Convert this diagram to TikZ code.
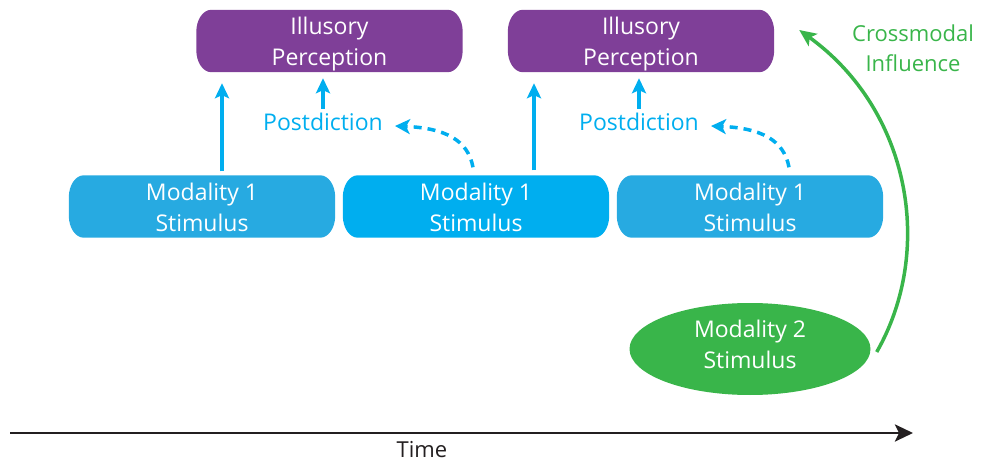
\documentclass[tikz,border=0pt]{standalone}
\usepackage{fontspec}
\setmainfont{Open Sans}
\usetikzlibrary{arrows.meta,shapes.geometric}
\definecolor{ipurple}{HTML}{7F3F98}
\definecolor{bblue}{HTML}{00AEEF}
\definecolor{mblue}{HTML}{27AAE1}
\definecolor{mgreen}{HTML}{39B54A}
\definecolor{tblack}{HTML}{231F20}
\pgfdeclarelayer{background}
\pgfsetlayers{background,main}
\newcommand\twolines[3]{\raisebox{#1}[\height][\depth]{\begin{tabular}{@{}c@{}}#2\\#3\end{tabular}}}
\newcommand\pillfill[2]{%
  \begin{pgfonlayer}{background}
  \fill[#2] ([xshift=15pt]#1.north west) -- ([xshift=-15pt]#1.north east)
    arc[start angle=90,end angle=0,x radius=15pt,y radius=22pt]
    -- ([yshift=22pt]#1.south east)
    arc[start angle=0,end angle=-90,x radius=15pt,y radius=22pt]
    -- ([xshift=15pt]#1.south west)
    arc[start angle=270,end angle=180,x radius=15pt,y radius=22pt]
    -- ([yshift=-22pt]#1.north west)
    arc[start angle=180,end angle=90,x radius=15pt,y radius=22pt] -- cycle;
  \end{pgfonlayer}}
\tikzset{
  txt/.style={font=\fontsize{23}{31}\selectfont, align=center},
  pillbox/.style={txt, text=white, minimum width=266pt, minimum height=60pt, inner sep=0pt},
  bluearrow/.style={draw=bblue, line width=3.5pt, -{Stealth[length=15pt,width=14pt,inset=3pt]}},
  dasharrow/.style={draw=bblue, line width=3.5pt, dash pattern=on 8pt off 6pt, -{Stealth[length=15pt,width=15pt,inset=4pt]}},
  pdlabel/.style={txt, text=bblue, inner sep=2pt},
}
\begin{document}
\begin{tikzpicture}[x=1pt,y=-1pt]
\useasboundingbox (0,0) rectangle (983,465);
% perception boxes
\node[pillbox] (ip1) at (329.5,41) {\twolines{-2.5pt}{Illusory}{Perception}};
\node[pillbox] (ip2) at (641,41) {\twolines{-2.5pt}{Illusory}{Perception}};
\pillfill{ip1}{ipurple}
\pillfill{ip2}{ipurple}
% stimulus boxes
\node[pillbox, minimum height=61pt] (m1a) at (202,206.5) {\twolines{-3pt}{Modality 1}{Stimulus}};
\node[pillbox, minimum height=61pt] (m1b) at (476,206.5) {\twolines{-3pt}{Modality 1}{Stimulus}};
\node[pillbox, minimum height=61pt] (m1c) at (750,206.5) {\twolines{-3pt}{Modality 1}{Stimulus}};
\pillfill{m1a}{mblue}
\pillfill{m1b}{bblue}
\pillfill{m1c}{mblue}
% postdiction labels
\node[pdlabel] (pd1) at (323,122) {Postdiction};
\node[pdlabel] (pd2) at (639,122) {Postdiction};
% modality 2
\node[ellipse, fill=mgreen, minimum width=241pt, minimum height=92pt, inner sep=0pt, txt, text=white] (m2) at (750,349) {\twolines{2.5pt}{Modality 2}{Stimulus}};
\node[txt, text=mgreen, font=\fontsize{22}{30}\selectfont] (cm) at (913,48) {Crossmodal\\Influence};
% axis coordinates
\coordinate (ax1) at (222,0);
\coordinate (ax2) at (534,0);
\coordinate (d1) at (473,0);
\coordinate (d2) at (789,0);
% solid up arrows
\draw[bluearrow, shorten <=4pt, shorten >=11pt] (m1a.north -| ax1) -- (ip1.south -| ax1);
\draw[bluearrow, shorten <=5pt, shorten >=11pt] (m1b.north -| ax2) -- (ip2.south -| ax2);
% postdiction up arrows
\draw[bluearrow, shorten <=2pt, shorten >=6pt] (pd1.north) -- (pd1.north |- ip1.south);
\draw[bluearrow, shorten <=2pt, shorten >=6pt] (pd2.north) -- (pd2.north |- ip2.south);
% dashed arrows
\draw[dasharrow] ([yshift=8pt]m1b.north -| d1) .. controls (468,140) and (445,128) .. ([xshift=10pt,yshift=-4pt]pd1.east);
\draw[dasharrow] ([yshift=8pt]m1c.north -| d2) .. controls (784,140) and (761,128) .. ([xshift=10pt,yshift=-4pt]pd2.east);
% crossmodal influence arc
\draw[draw=mgreen, line width=3.5pt, -{Stealth[length=17pt,width=15pt,inset=4pt]}]
  ([xshift=6pt,yshift=-3pt]m2.east) .. controls (935,250) and (910,110) .. ([xshift=25pt,yshift=11pt]ip2.east);
% time axis
\coordinate (t0) at (10,433);
\coordinate (t1) at (913,433);
\draw[draw=tblack, line width=2.8pt, -{Stealth[length=18pt,width=17pt,inset=4pt]}] (t0) -- (t1);
\node[txt, text=tblack, font=\fontsize{22}{26}\selectfont] (time) at (422,450) {Time};
\end{tikzpicture}
\end{document}
